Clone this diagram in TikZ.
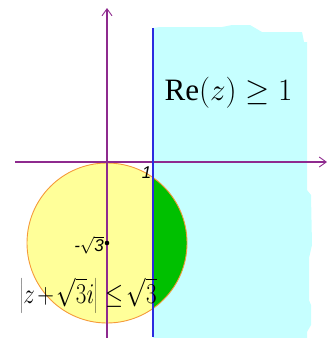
\documentclass[tikz,border=0pt]{standalone}
\usepackage{fontspec}
\setmainfont{Liberation Serif}
\setsansfont{Liberation Sans}
\usetikzlibrary{arrows.meta}
\definecolor{Axis}{HTML}{8E2A8E}
\definecolor{Bound}{HTML}{2B2BE0}
\definecolor{HalfPlane}{HTML}{C6FFFF}
\definecolor{Disk}{HTML}{FFFF99}
\definecolor{DiskEdge}{HTML}{F59A3A}
\definecolor{Common}{HTML}{00C000}

\begin{document}
\begin{tikzpicture}[x=1pt,y=-1pt,
  axis/.style={Axis,line width=1.2pt,-{Straight Barb[length=7pt,width=10pt,line width=0.9pt]}},
  tag/.style={font=\sffamily\itshape\fontsize{17}{17}\selectfont,inner sep=0pt},
  big/.style={font=\Huge,inner sep=0pt,anchor=base}]
\useasboundingbox (0,0) rectangle (328,338);
% half plane Re(z) >= 1, hand shaded
\fill[HalfPlane] (153,28) -- (160,27) -- (222,27) -- (232,25) -- (250,25) -- (262,32)
  -- (302,32) -- (304,42) -- (307,42) -- (307,190) -- (311,195) -- (312,245) -- (309,258)
  -- (309,300) -- (311,305) -- (311,325) -- (307,332) -- (307,338) -- (153,338) -- cycle;
% disk |z + sqrt3 i| <= sqrt3
\coordinate (c) at (107,243);
\fill[Disk] (c) circle (80);
\begin{scope}
\clip (153,0) rectangle (328,338);
\fill[Common] (c) circle (80);
\end{scope}
\draw[DiskEdge,line width=0.9pt] (c) circle (80);
% axes
\coordinate (xl) at (15,162);
\coordinate (xr) at (327,162);
\coordinate (yb) at (107,338);
\coordinate (yt) at (107,8);
\draw[axis] (xl) -- (xr);
\draw[axis] (yb) -- (yt);
\coordinate (bt) at (153,28);
\coordinate (bb) at (153,337);
\draw[Bound,line width=1.2pt] (bt) -- (bb);
\fill (c) circle (2.3);
\node[tag] (one) at (146.5,173) {1};
\node[tag,anchor=east] (ctr) at (104,245) {-$\sqrt{\mbox{\sffamily\itshape 3}}$};
\node[big,scale=1.25] (half) at (228.5,100) {$\mathrm{Re}\bigl(z\bigr)\ge 1$};
\node[big,xscale=0.93,yscale=1.15] (disk) at (88.5,303)
  {$\left|z\mkern2mu{+}\mkern2mu\sqrt{3}i\right|\mkern3mu{\le}\mkern3mu\sqrt{3}$};
\end{tikzpicture}
\end{document}
